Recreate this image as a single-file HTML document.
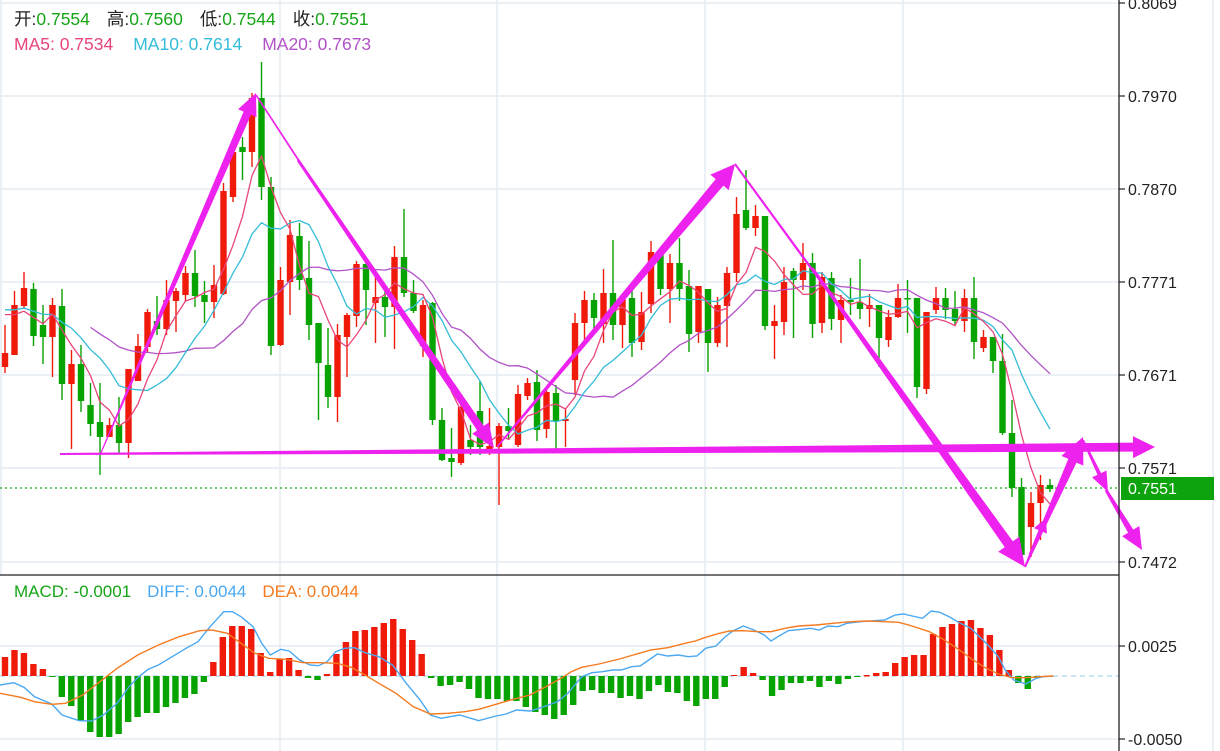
<!DOCTYPE html>
<html><head><meta charset="utf-8">
<style>
html,body{margin:0;padding:0;background:#fff;}
body{width:1220px;height:751px;overflow:hidden;font-family:"Liberation Sans","Noto Sans CJK SC",sans-serif;}
svg{display:block}
</style></head>
<body>
<svg id="c" width="1220" height="751" xmlns="http://www.w3.org/2000/svg">
<rect width="1220" height="751" fill="#fff"/>
<g id="grid" stroke="#e4ecf2" stroke-width="1.5">
<line x1="0" y1="3" x2="1119" y2="3"/>
<line x1="0" y1="96" x2="1119" y2="96"/>
<line x1="0" y1="189" x2="1119" y2="189"/>
<line x1="0" y1="282" x2="1119" y2="282"/>
<line x1="0" y1="375" x2="1119" y2="375"/>
<line x1="0" y1="468" x2="1119" y2="468"/>
<line x1="0" y1="562" x2="1119" y2="562"/>
<line x1="0" y1="646" x2="1119" y2="646"/>
<line x1="0" y1="739" x2="1119" y2="739"/>
<line x1="280" y1="0" x2="280" y2="751"/>
<line x1="497" y1="0" x2="497" y2="751"/>
<line x1="705" y1="0" x2="705" y2="751"/>
<line x1="903" y1="0" x2="903" y2="751"/>
<line x1="1213" y1="0" x2="1213" y2="751"/>
<line x1="1" y1="0" x2="1" y2="575"/>
</g>
<line x1="0" y1="676" x2="1119" y2="676" stroke="#a8d8f0" stroke-width="1.2" stroke-dasharray="5,4"/>
<g id="candles"></g>
<g id="mas" fill="none" stroke-width="1.3"></g>
<g id="macd"></g>
<line x1="0" y1="488" x2="1119" y2="488" stroke="#1aa81a" stroke-width="1.2" stroke-dasharray="2,3"/>
<g id="arrows" fill="#ee22ee"></g>
<line x1="0" y1="575" x2="1119" y2="575" stroke="#222" stroke-width="1.3"/>
<line x1="1119" y1="0" x2="1119" y2="751" stroke="#222" stroke-width="1.3"/>
<g stroke="#222" stroke-width="1.2">
<line x1="1119" y1="3" x2="1125" y2="3"/><line x1="1119" y1="96" x2="1125" y2="96"/>
<line x1="1119" y1="189" x2="1125" y2="189"/><line x1="1119" y1="282" x2="1125" y2="282"/>
<line x1="1119" y1="375" x2="1125" y2="375"/><line x1="1119" y1="468" x2="1125" y2="468"/>
<line x1="1119" y1="562" x2="1125" y2="562"/><line x1="1119" y1="646" x2="1125" y2="646"/>
<line x1="1119" y1="739" x2="1125" y2="739"/>
</g>
<rect x="1121" y="477" width="93" height="23" fill="#0ca30c"/>
<g font-family="Liberation Sans, sans-serif" font-size="16" fill="#222">
<text x="1128" y="9">0.8069</text>
<text x="1128" y="102">0.7970</text>
<text x="1128" y="195">0.7870</text>
<text x="1128" y="288">0.7771</text>
<text x="1128" y="381">0.7671</text>
<text x="1128" y="474">0.7571</text>
<text x="1128" y="568">0.7472</text>
<text x="1128" y="652">0.0025</text>
<text x="1128" y="745">-0.0050</text>
<text x="1128" y="494" fill="#fff">0.7551</text>
</g>
<g font-family="Liberation Sans, 'Noto Sans CJK SC', sans-serif" font-size="17.5">
<text x="14" y="25"><tspan fill="#222">开:</tspan><tspan fill="#16a516">0.7554</tspan><tspan fill="#222" dx="17">高:</tspan><tspan fill="#16a516">0.7560</tspan><tspan fill="#222" dx="17">低:</tspan><tspan fill="#16a516">0.7544</tspan><tspan fill="#222" dx="17">收:</tspan><tspan fill="#16a516">0.7551</tspan></text>
<text x="14" y="50"><tspan fill="#e8457a">MA5: 0.7534</tspan><tspan fill="#34bcd8" dx="20">MA10: 0.7614</tspan><tspan fill="#b152c7" dx="20">MA20: 0.7673</tspan></text>
</g>
<text x="14" y="597" font-family="Liberation Sans, sans-serif" font-size="17"><tspan fill="#16a516">MACD: -0.0001</tspan><tspan fill="#4aa8f0" dx="16">DIFF: 0.0044</tspan><tspan fill="#f57a20" dx="16">DEA: 0.0044</tspan></text>
</svg>
<script>
var NS="http://www.w3.org/2000/svg";
function el(p,t,a){var e=document.createElementNS(NS,t);for(var k in a)e.setAttribute(k,a[k]);p.appendChild(e);return e;}
var R="#f01a0a",G="#07a300";
var D=[
['R',353,367,325,373],['R',305,355,291,355],['R',288,306,272,309],['G',289,336,283,346],['G',325,337,305,364],
['R',305,337,298,377],['G',306,384,289,400],['R',364,384,350,449],['G',364,401,345,412],['G',405,424,383,436],
['G',422,437,383,475],['R',425,437,418,437],['G',425,443,397,453],['R',369,443,369,458],['R',346,381,334,381],
['R',312,347,309,352],['G',321,329,296,335],['R',300,329,280,335],['R',291,301,288,332],['R',273,295,266,302],
['G',273,296,250,307],['G',295,302,281,323],['R',285,302,265,318],['R',191,294,183,295],['R',152,197,147,202],
['G',147,152,137,180],['R',98,152,93,167],['G',98,187,62,200],['G',187,346,177,355],['R',280,345,267,346],
['R',235,282,220,315],['G',236,280,223,290],['G',278,325,241,340],['G',323,363,323,420],['G',365,397,328,408],
['R',335,397,324,422],['R',315,337,313,377],['R',264,316,261,327],['G',264,290,260,325],['R',297,303,277,343],
['G',297,307,288,337],['R',257,307,246,349],['G',257,293,209,297],['G',293,311,280,313],['R',305,346,300,357],
['G',303,420,302,425],['G',420,460,408,461],['G',458,462,428,477],['R',407,463,403,465],['G',440,447,425,455],
['G',411,447,381,455],['R',446,450,408,455],['R',426,447,423,505],['G',426,431,408,440],['R',394,445,385,447],
['R',383,396,378,400],['G',382,430,370,441],['R',392,429,388,438],['G',393,421,385,449],['R',419,421,409,447],
['R',323,380,313,395],['R',300,323,291,343],['G',300,318,293,330],['R',293,324,269,343],['G',293,325,240,340],
['R',298,325,294,348],['G',298,343,288,357],['R',312,342,292,350],['R',252,304,241,313],['G',255,289,251,295],
['R',263,289,254,323],['G',263,289,238,301],['G',286,334,270,352],['R',286,332,286,343],['G',289,343,289,372],
['R',305,343,297,347],['R',273,306,267,347],['R',214,273,197,282],['G',210,228,170,230],['R',216,228,205,236],
['G',216,326,216,330],['R',321,326,305,359],['R',282,322,267,335],['G',271,280,268,338],['R',263,280,243,290],
['G',263,324,253,338],['R',277,323,272,333],['G',278,319,272,330],['R',300,320,295,343],['G',300,302,278,315],
['G',302,309,259,319],['R',305,309,294,327],['G',305,338,305,367],['R',317,340,310,347],['R',298,317,284,318],
['G',298,299,280,333],['G',298,387,298,398],['R',312,389,312,394],['R',298,310,287,314],['G',298,310,288,319],
['G',309,321,291,325],['R',298,321,289,332],['G',298,342,277,359],['R',337,348,330,352],['G',337,361,337,373],
['G',361,433,334,435],['G',433,488,400,497],['G',487,555,478,556],['R',503,527,492,557],['R',485,503,475,540],
['G',485,489,479,492]];
var SP=9.5,X0=5;
var cg=document.getElementById('candles');
var closes=[];
D.forEach(function(d,i){
 var x=X0+SP*i, c=d[0]=='R'?R:G;
 el(cg,'line',{x1:x,y1:d[3],x2:x,y2:d[4],stroke:c,'stroke-width':1.4});
 var h=Math.max(1.5,d[2]-d[1]);
 el(cg,'rect',{x:x-3.2,y:d[1],width:6.4,height:h,fill:c});
 closes.push(d[0]=='R'?d[1]:d[2]);
});
var pre=[];for(var k=0;k<20;k++)pre.push(305);
var all=pre.concat(closes);
function ma(n,start,col){
 var pts=[];
 for(var i=start;i<closes.length;i++){
  var s=0;for(var j=0;j<n;j++)s+=all[20+i-j];
  pts.push((X0+SP*i).toFixed(1)+','+(s/n).toFixed(1));
 }
 el(document.getElementById('mas'),'polyline',{points:pts.join(' '),stroke:col});
}
ma(20,9,'#b152c7');ma(10,0,'#34bcd8');ma(5,0,'#e8457a');
var H=[19,26,23,12,7,-1,-21,-30,-45,-56,-61,-61,-58,-46,-41,-37,-37,-31,-27,-22,-18,-6,14,39,50,50,47,23,4,17,18,6,-2,-4,2,22,34,45,46,49,53,57,47,36,22,-2,-10,-9,-6,-13,-22,-23,-23,-25,-25,-31,-36,
-39,-43,-39,-29,-15,-14,-17,-17,-22,-20,-23,-15,-9,-16,-17,-25,-30,-23,-23,-11,1,9,3,-4,-20,-14,-7,-7,-5,-11,-5,-8,-3,-1,0,3,4,13,19,21,21,42,49,52,55,56,48,41,26,6,-7,-13,-2,-1];
var mg=document.getElementById('macd');
var MS=9.47;
H.forEach(function(v,i){
 var x=X0+MS*i;
 if(Math.abs(v)<1){el(mg,'rect',{x:x-3,y:675,width:6,height:1.5,fill:v>=0?R:G});return;}
 el(mg,'rect',{x:x-3.2,y:v>0?676-v:676,width:6.4,height:Math.abs(v),fill:v>0?R:G});
});
function conv(a,ox){return a.map(function(p){return (ox+p[0]/2.904).toFixed(1)+','+(580+p[1]/3).toFixed(1);});}
var b7=[[0,315],[40,308],[70,322],[100,350],[150,372],[180,405],[230,422],[265,423],[300,405],[340,370],[375,320],[400,293],[430,268],[460,255],[500,230],[540,205],[575,185],[610,140],[650,95],[675,95],[700,110],[735,140],[760,190],[785,225],[815,208],[840,213],[870,240],[900,255],[925,257],[950,245],[975,215],[1000,205],[1030,203],[1060,218],[1100,230],[1140,255],[1180,310],[1220,360],[1250,405],[1280,415],[1335,405],[1390,422],[1440,408],[1470,402],[1500,390]];
var b8=[[0,393],[40,380],[80,365],[110,340],[150,290],[180,278],[210,275],[240,270],[265,270],[295,260],[320,258],[345,240],[370,222],[400,228],[430,225],[460,230],[485,228],[510,205],[540,198],[565,172],[590,152],[620,138],[650,150],[680,165],[700,183],[720,170],[750,152],[790,148],[815,145],[840,150],[865,138],[895,140],[920,130],[960,125],[1000,122],[1030,120],[1060,105],[1085,102],[1110,108],[1140,115],[1165,93],[1190,97],[1220,112],[1250,130],[1280,145],[1300,165],[1330,195],[1360,230],[1380,270],[1405,300],[1440,312],[1470,295],[1490,290],[1520,288]];
var o7=[[0,340],[60,352],[100,365],[150,373],[190,370],[240,345],[290,305],[340,265],[400,225],[460,195],[520,170],[580,152],[615,150],[660,160],[700,190],[740,220],[780,235],[830,238],[880,248],[930,248],[980,250],[1020,262],[1060,285],[1100,310],[1150,340],[1200,380],[1250,402],[1300,400],[1350,395],[1390,388],[1440,373],[1490,358]];
var o8=[[0,345],[50,318],[90,295],[120,275],[150,262],[200,252],[260,237],[300,225],[350,210],[400,203],[450,190],[480,183],[510,172],[550,160],[580,153],[620,152],[660,155],[700,155],[740,145],[780,138],[830,135],[880,130],[930,125],[980,123],[1030,125],[1070,127],[1100,135],[1160,155],[1200,178],[1240,205],[1280,235],[1320,262],[1360,282],[1400,293],[1440,293],[1480,290],[1520,288]];
el(mg,'polyline',{points:conv(b7,0).concat(conv(b8,530)).join(' '),fill:'none',stroke:'#4aa8f0','stroke-width':1.4});
el(mg,'polyline',{points:conv(o7,0).concat(conv(o8,530)).join(' '),fill:'none',stroke:'#f57a20','stroke-width':1.4});
var ag=document.getElementById('arrows');
function arrow(x1,y1,x2,y2,w1,w2,hl,hw){
 var dx=x2-x1,dy=y2-y1,L=Math.sqrt(dx*dx+dy*dy),ux=dx/L,uy=dy/L,nx=-uy,ny=ux;
 var bx=x2-ux*hl,by=y2-uy*hl;
 var p=[[x1+nx*w1/2,y1+ny*w1/2],[bx+nx*w2/2,by+ny*w2/2],[bx+nx*hw,by+ny*hw],[x2,y2],[bx-nx*hw,by-ny*hw],[bx-nx*w2/2,by-ny*w2/2],[x1-nx*w1/2,y1-ny*w1/2]];
 if(hl==0)p=[p[0],[x2+nx*w2/2,y2+ny*w2/2],[x2-nx*w2/2,y2-ny*w2/2],p[6]];
 el(ag,'polygon',{points:p.map(function(q){return q[0].toFixed(1)+','+q[1].toFixed(1);}).join(' ')});
}
arrow(60,454,1155,447,2,9,22,11);
arrow(100,455,256,93,1,8,22,10);
arrow(256,95,318,190,1.6,2,0,0);
arrow(298,160,494,448,3,8,24,10);
arrow(497,447,735,164,1.5,10,24,12);
arrow(735,164,822,283,2,2.5,0,0);
arrow(812,268,1025,567,3,10,28,13);
arrow(1025,567,1083,437,2,9,26,12);
arrow(1030,555,1046,518,3,4,14,7);
arrow(1083,440,1108,492,2,4,20,8);
arrow(1106,490,1142,550,3,6,22,10);
</script>
</body></html>
